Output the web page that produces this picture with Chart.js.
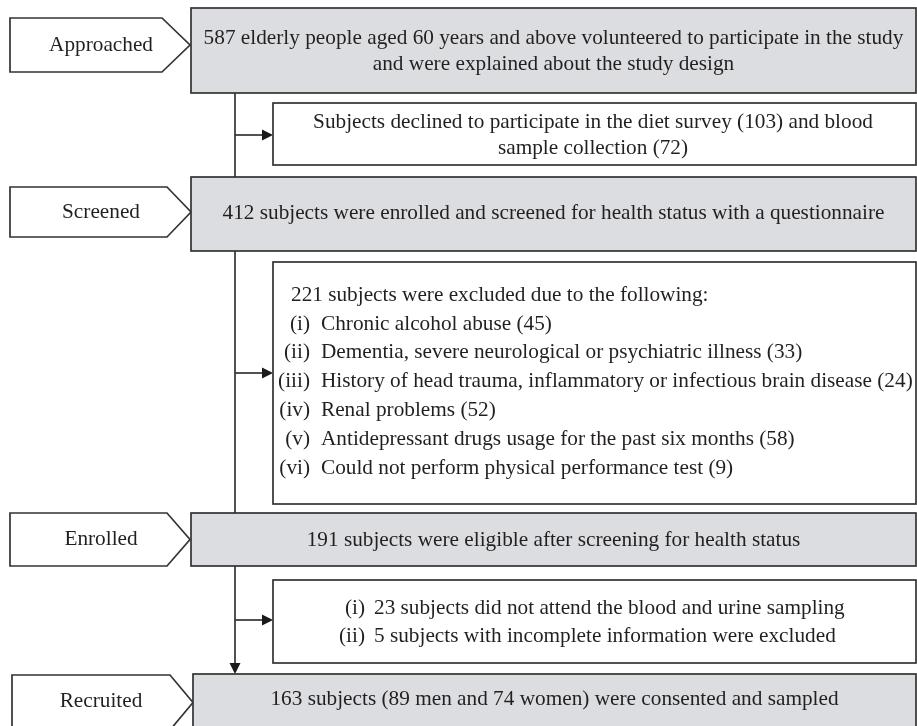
<!DOCTYPE html>
<html>
<head>
<meta charset="utf-8">
<script src="https://cdn.jsdelivr.net/npm/chart.js@4.4.1/dist/chart.umd.min.js"></script>
<style>
  body { margin: 0; background: #fff; }
  canvas { display: block; }
</style>
</head>
<body>
<canvas id="flow" width="917" height="726"></canvas>
<script>
// Flow data
const stages = ["Approached", "Screened", "Enrolled", "Recruited"];
const stageCounts = [587, 412, 191, 163];
const declinedCounts = [103, 72]; // diet survey, blood sample
const excludedTotal = 221;
const exclusionNumerals = ["(i)", "(ii)", "(iii)", "(iv)", "(v)", "(vi)"];
const exclusionReasons = [
  "Chronic alcohol abuse",
  "Dementia, severe neurological or psychiatric illness",
  "History of head trauma, inflammatory or infectious brain disease",
  "Renal problems",
  "Antidepressant drugs usage for the past six months",
  "Could not perform physical performance test"
];
const exclusionCounts = [45, 33, 24, 52, 58, 9];
const lostNumerals = ["(i)", "(ii)"];
const lostCounts = [23, 5];
const lostReasons = [
  "subjects did not attend the blood and urine sampling",
  "subjects with incomplete information were excluded"
];
const recruitedSplit = [89, 74]; // men, women

// Box texts built from the data
const mainLines = [
  [stageCounts[0] + " elderly people aged 60 years and above volunteered to participate in the study",
   "and were explained about the study design"],
  [stageCounts[1] + " subjects were enrolled and screened for health status with a questionnaire"],
  [stageCounts[2] + " subjects were eligible after screening for health status"],
  [stageCounts[3] + " subjects (" + recruitedSplit[0] + " men and " + recruitedSplit[1] + " women) were consented and sampled"]
];
const declinedLines = [
  "Subjects declined to participate in the diet survey (" + declinedCounts[0] + ") and blood",
  "sample collection (" + declinedCounts[1] + ")"
];

// Layout (in chart units, same as pixels)
const tags = [
  { x0: 10, x1: 162, tip: 190, y0: 18, y1: 72 },
  { x0: 10, x1: 167, tip: 191, y0: 187, y1: 237 },
  { x0: 10, x1: 167, tip: 190, y0: 513, y1: 566 },
  { x0: 12, x1: 170, tip: 193, y0: 675, y1: 730 }
];
const mainBoxes = [
  { x0: 191, x1: 916, y0: 8, y1: 93, lines: [38, 64] },
  { x0: 191, x1: 916, y0: 177, y1: 251, lines: [213] },
  { x0: 191, x1: 916, y0: 513, y1: 566, lines: [540] },
  { x0: 193, x1: 916, y0: 674, y1: 740, lines: [699] }
];
const sideBoxes = [
  { x0: 273, x1: 916, y0: 103, y1: 165, arrowY: 135 },
  { x0: 273, x1: 916, y0: 262, y1: 504, arrowY: 373 },
  { x0: 273, x1: 916, y0: 580, y1: 663, arrowY: 620 }
];
const spineX = 235;
const GRAY = "#dcdde0";
const EDGE = "#333333";
const INK = "#231f20";

const flowPlugin = {
  id: "flow",
  afterDraw(chart) {
    const ctx = chart.ctx;
    const sx = chart.scales.x, sy = chart.scales.y;
    const X = v => sx.getPixelForValue(v);
    const Y = v => sy.getPixelForValue(v);

    // fit font so the widest exclusion line fills its box like the original
    ctx.font = '100px "Liberation Serif"';
    const ref = exclusionReasons[2] + " (" + exclusionCounts[2] + ")";
    const size = 100 * (X(913) - X(321)) / ctx.measureText(ref).width;
    const font = size.toFixed(2) + 'px "Liberation Serif"';

    ctx.save();
    ctx.lineWidth = 1.7;
    ctx.strokeStyle = EDGE;

    function arrowHead(x, y, dir) {
      ctx.beginPath();
      if (dir === "right") {
        ctx.moveTo(x, y); ctx.lineTo(x - 11, y - 5.5); ctx.lineTo(x - 11, y + 5.5);
      } else {
        ctx.moveTo(x, y); ctx.lineTo(x - 5.5, y - 11); ctx.lineTo(x + 5.5, y - 11);
      }
      ctx.closePath();
      ctx.fillStyle = "#1a1a1a";
      ctx.fill();
    }

    // spine
    ctx.beginPath();
    ctx.moveTo(X(spineX), Y(93));
    ctx.lineTo(X(spineX), Y(664));
    ctx.stroke();
    arrowHead(X(spineX), Y(674), "down");

    // branch arrows
    sideBoxes.forEach(b => {
      ctx.beginPath();
      ctx.moveTo(X(spineX), Y(b.arrowY));
      ctx.lineTo(X(b.x0) - 8, Y(b.arrowY));
      ctx.stroke();
      arrowHead(X(b.x0), Y(b.arrowY), "right");
    });

    function rect(b, fill) {
      ctx.fillStyle = fill;
      ctx.fillRect(X(b.x0), Y(b.y0), X(b.x1) - X(b.x0), Y(b.y1) - Y(b.y0));
      ctx.strokeRect(X(b.x0), Y(b.y0), X(b.x1) - X(b.x0), Y(b.y1) - Y(b.y0));
    }

    ctx.font = font;
    ctx.textBaseline = "middle";

    // stage tags
    tags.forEach((t, i) => {
      const ym = (t.y0 + t.y1) / 2;
      ctx.beginPath();
      ctx.moveTo(X(t.x0), Y(t.y0));
      ctx.lineTo(X(t.x1), Y(t.y0));
      ctx.lineTo(X(t.tip), Y(ym));
      ctx.lineTo(X(t.x1), Y(t.y1));
      ctx.lineTo(X(t.x0), Y(t.y1));
      ctx.closePath();
      ctx.fillStyle = "#fff";
      ctx.fill();
      ctx.stroke();
      ctx.fillStyle = INK;
      ctx.textAlign = "center";
      ctx.fillText(stages[i], X(101), Y(Math.min(ym, 701)));
    });

    // main grey boxes
    mainBoxes.forEach((b, i) => {
      rect(b, GRAY);
      ctx.fillStyle = INK;
      ctx.textAlign = "center";
      mainLines[i].forEach((line, j) => {
        ctx.fillText(line, X((b.x0 + b.x1) / 2), Y(b.lines[j]));
      });
    });

    // side boxes
    sideBoxes.forEach(b => rect(b, "#fff"));
    ctx.fillStyle = INK;

    // declined
    ctx.textAlign = "center";
    ctx.fillText(declinedLines[0], X(593), Y(122));
    ctx.fillText(declinedLines[1], X(593), Y(148));

    // exclusions list
    ctx.textAlign = "left";
    ctx.fillText(excludedTotal + " subjects were excluded due to the following:", X(291), Y(295));
    exclusionReasons.forEach((r, i) => {
      const y = Y(324 + i * 28.8);
      ctx.textAlign = "right";
      ctx.fillText(exclusionNumerals[i], X(310), y);
      ctx.textAlign = "left";
      ctx.fillText(r + " (" + exclusionCounts[i] + ")", X(321), y);
    });

    // lost to sampling
    lostReasons.forEach((r, i) => {
      const y = Y(608 + i * 28);
      ctx.textAlign = "right";
      ctx.fillText(lostNumerals[i], X(365), y);
      ctx.textAlign = "left";
      ctx.fillText(lostCounts[i] + " " + r, X(374), y);
    });

    ctx.restore();
  }
};

new Chart(document.getElementById("flow"), {
  type: "scatter",
  data: { datasets: [{ data: [] }] },
  options: {
    responsive: false,
    devicePixelRatio: 1,
    animation: false,
    layout: { padding: 0 },
    plugins: { legend: { display: false }, tooltip: { enabled: false } },
    scales: {
      x: { type: "linear", min: 0, max: 917, display: false },
      y: { type: "linear", min: 0, max: 726, reverse: true, display: false }
    }
  },
  plugins: [flowPlugin]
});
</script>
</body>
</html>
